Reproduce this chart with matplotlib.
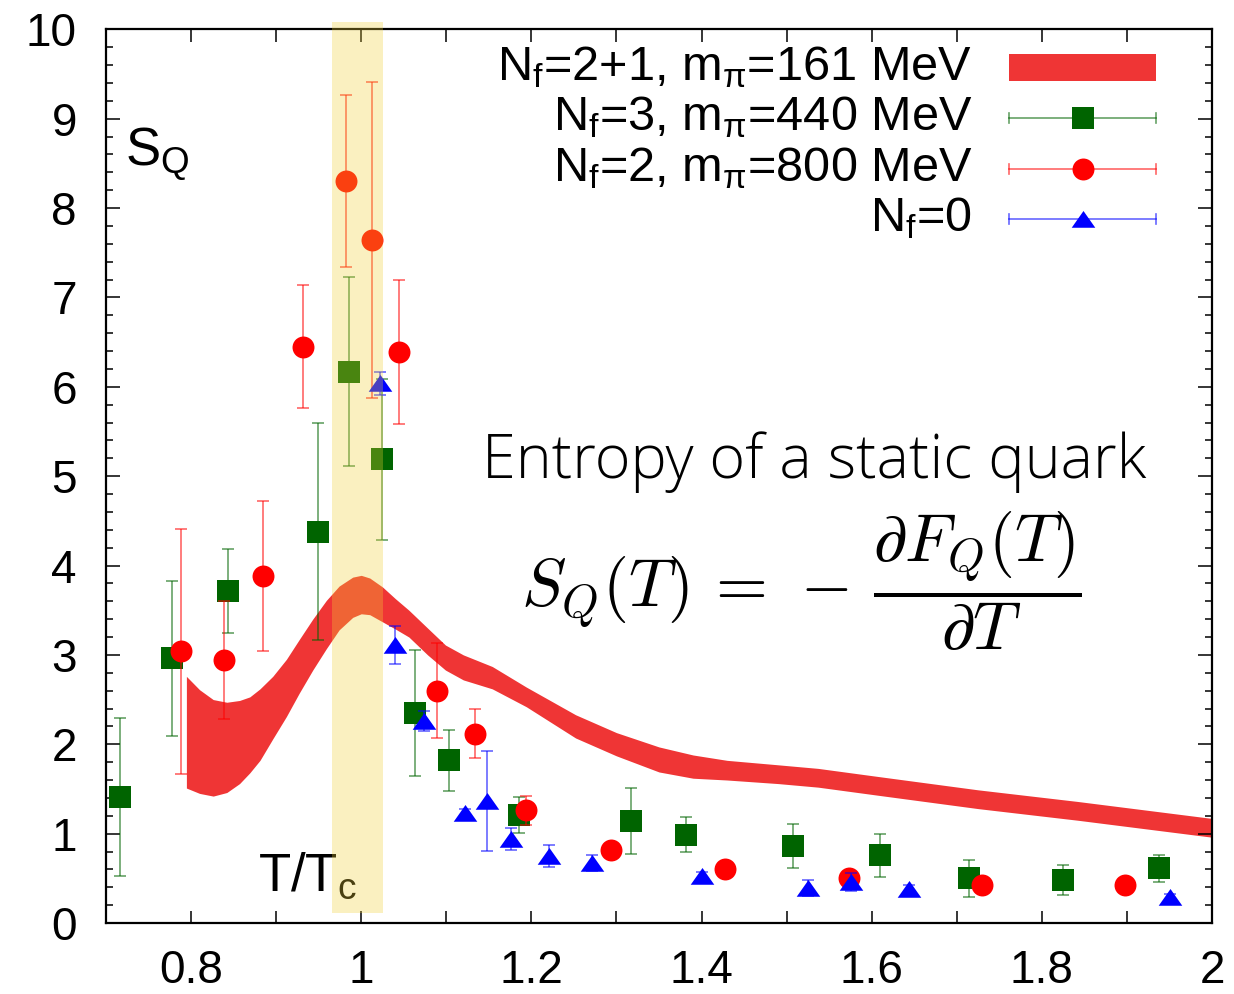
import numpy as np
import matplotlib
matplotlib.use('Agg')
import matplotlib.pyplot as plt
import matplotlib.patches as pch
from matplotlib.lines import Line2D
from matplotlib.ticker import MultipleLocator, FuncFormatter

plt.rcParams['font.family'] = ['Liberation Sans', 'DejaVu Sans']
plt.rcParams['mathtext.fontset'] = 'custom'
plt.rcParams['mathtext.rm'] = 'Liberation Sans'
plt.rcParams['mathtext.it'] = 'Liberation Sans:italic'
plt.rcParams['mathtext.bf'] = 'Liberation Sans:bold'

# Nf=2+1, m_pi=161 MeV: band edges
band_t = [0.7945, 0.810, 0.826, 0.842, 0.857, 0.869, 0.881, 0.896, 0.912, 0.927,
          0.943, 0.959, 0.974, 0.990, 1.000, 1.010, 1.025, 1.040, 1.056, 1.078,
          1.099, 1.120, 1.154, 1.194, 1.252, 1.300, 1.350, 1.390, 1.430, 1.490,
          1.537, 1.607, 1.725, 1.842, 2.000]
band_hi = [2.76, 2.61, 2.50, 2.47, 2.49, 2.53, 2.62, 2.76, 2.95, 3.17,
           3.40, 3.61, 3.77, 3.87, 3.89, 3.86, 3.76, 3.63, 3.50, 3.30,
           3.11, 3.00, 2.87, 2.64, 2.33, 2.13, 1.97, 1.88, 1.82, 1.77,
           1.73, 1.64, 1.49, 1.36, 1.17]
band_lo = [1.51, 1.45, 1.42, 1.46, 1.56, 1.68, 1.82, 2.06, 2.31, 2.57,
           2.83, 3.07, 3.28, 3.42, 3.46, 3.45, 3.37, 3.29, 3.20, 3.00,
           2.83, 2.72, 2.62, 2.42, 2.07, 1.87, 1.69, 1.62, 1.60, 1.56,
           1.52, 1.43, 1.28, 1.15, 0.96]

# Nf=3, m_pi=440 MeV
nf3_t = [0.716, 0.777, 0.843, 0.9495, 0.9856, 1.0244, 1.0632, 1.1032, 1.1858,
         1.3171, 1.3817, 1.5077, 1.6093, 1.7147, 1.8247, 1.9380]
nf3_s = [1.41, 2.96, 3.71, 4.38, 6.17, 5.19, 2.35, 1.82, 1.21,
         1.14, 0.99, 0.86, 0.76, 0.50, 0.48, 0.61]
nf3_e = [0.88, 0.87, 0.47, 1.21, 1.06, 0.90, 0.71, 0.34, 0.20,
         0.37, 0.20, 0.25, 0.24, 0.21, 0.165, 0.155]

# Nf=2, m_pi=800 MeV
nf2_t = [0.7878, 0.839, 0.8845, 0.9319, 0.9817, 1.013, 1.0444, 1.0887, 1.1341,
         1.1933, 1.2936, 1.4278, 1.5733, 1.7302, 1.8979]
nf2_s = [3.04, 2.94, 3.88, 6.45, 8.30, 7.64, 6.39, 2.60, 2.12,
         1.26, 0.82, 0.60, 0.50, 0.43, 0.42]
nf2_e = [1.37, 0.66, 0.84, 0.69, 0.96, 1.77, 0.81, 0.53, 0.27,
         0.16, 0.05, 0.05, 0.06, 0.04, 0.04]

# Nf=0 (quenched)
nf0_t = [1.022, 1.0397, 1.0738, 1.1216, 1.1475, 1.1757, 1.221, 1.2712, 1.4006,
         1.5257, 1.5762, 1.6436, 1.9510]
nf0_s = [6.04, 3.11, 2.26, 1.23, 1.37, 0.94, 0.75, 0.67, 0.53,
         0.395, 0.46, 0.38, 0.29]
nf0_e = [0.13, 0.21, 0.11, 0.05, 0.56, 0.12, 0.12, 0.09, 0.04,
         0.09, 0.10, 0.04, 0.03]

labels = [r'N$_\mathrm{f}$=2+1, m$_\mathrm{\pi}$=161 MeV',
          r'N$_\mathrm{f}$=3, m$_\mathrm{\pi}$=440 MeV',
          r'N$_\mathrm{f}$=2, m$_\mathrm{\pi}$=800 MeV',
          r'N$_\mathrm{f}$=0']

W, H = 1234, 994
fig = plt.figure(figsize=(W / 100, H / 100), dpi=100)
ax = fig.add_axes([106 / W, 71 / H, 1106 / W, 893.7 / H])


def fpx(x, y):
    # pixel position -> figure fraction
    return x / W, 1 - y / H


def apx(x, y):
    # pixel position -> axes fraction
    return (x - 106) / 1106, (923 - y) / 893.7


band_col = '#ef3535'
green, red, blue = '#006400', '#ff0000', '#0000ff'
tri = [(0, 0.72), (-1, -0.70), (1, -0.70)]

ax.fill_between(band_t, band_lo, band_hi, color=band_col, lw=0, zorder=1)

series = [(nf3_t, nf3_s, nf3_e, green, 's', 16.3),
          (nf2_t, nf2_s, nf2_e, red, 'o', 15.8),
          (nf0_t, nf0_s, nf0_e, blue, tri, 17.0)]
for i, (t, s, e, col, mk, ms) in enumerate(series):
    ecol = matplotlib.colors.to_rgba(col, 0.6)
    ax.errorbar(t, s, yerr=e, fmt='none', ecolor=ecol, elinewidth=1.2,
                capsize=4.4, capthick=1.2, zorder=2 + 2 * i)
    ax.plot(t, s, ls='none', marker=mk, ms=ms, color=col, mew=0, zorder=3 + 2 * i)

ax.set_xlim(0.7, 2.0)
ax.set_ylim(0, 10)
ax.xaxis.set_major_locator(MultipleLocator(0.1))
ax.xaxis.set_major_formatter(FuncFormatter(
    lambda v, p: ('%g' % round(v, 1)) if abs(v * 5 - round(v * 5)) < 1e-6 else ''))
ax.yaxis.set_major_locator(MultipleLocator(1))
ax.yaxis.set_minor_locator(MultipleLocator(0.2))
ax.tick_params(axis='both', which='both', direction='in', top=True, right=True,
               width=1.1, labelsize=33)
ax.tick_params(axis='x', which='major', length=9, pad=19)
ax.tick_params(axis='y', which='major', length=10, pad=21)
ax.tick_params(axis='y', which='minor', length=5)
for sp in ax.spines.values():
    sp.set_linewidth(1.6)

# key, drawn gnuplot style: label on the left, sample on the right
rows = [68, 118, 169, 219]
x0, x1, xm = 1009, 1156, 1083
for k, (lab, ry) in enumerate(zip(labels, rows)):
    tx, ty = apx(972, ry + 12)
    ax.text(tx, ty, lab, transform=ax.transAxes, ha='right', va='baseline', fontsize=35)
    if k == 0:
        bx, by = apx(x0, 81)
        ax.add_patch(pch.Rectangle((bx, by), (x1 - x0) / 1106, 27 / 893.7,
                                   transform=ax.transAxes, color=band_col, lw=0, clip_on=False))
        continue
    t, s, e, col, mk, ms = series[k - 1]
    ecol = matplotlib.colors.to_rgba(col, 0.6)
    ax0, ay = apx(x0, ry)
    ax1, _ = apx(x1, ry)
    ax.add_line(Line2D([ax0, ax1], [ay, ay], transform=ax.transAxes, color=ecol,
                       lw=1.2, clip_on=False))
    for cx in (x0, x1):
        cxa, cy0 = apx(cx, ry - 5)
        _, cy1 = apx(cx, ry + 5)
        ax.add_line(Line2D([cxa, cxa], [cy0, cy1], transform=ax.transAxes, color=ecol,
                           lw=1.2, clip_on=False))
    mxa, mya = apx(xm, ry)
    ax.add_line(Line2D([mxa], [mya], transform=ax.transAxes, ls='none', marker=mk,
                       ms=ms, color=col, mew=0, clip_on=False))

# annotations
fig.text(*fpx(125, 165), r'S$_\mathrm{Q}$', fontsize=38, va='baseline')
fig.text(*fpx(258, 891), r'T/T$_\mathrm{c}$', fontsize=38, va='baseline')
fig.text(*fpx(482, 478), 'Entropy of a static quark', fontsize=44,
         family='Open Sans', weight='light', va='baseline')
fig.text(*fpx(521, 581), r'$S_Q(T)\,=\,-\,\dfrac{\partial F_Q(T)}{\partial T}$',
         fontsize=48, math_fontfamily='cm', va='center')

# transition region around T_c, laid over everything
bx, by = fpx(331.7, 912.7)
fig.add_artist(pch.Rectangle((bx, by), 51 / W, 890.7 / H, transform=fig.transFigure,
                             facecolor=(239 / 255, 207 / 255, 54 / 255), alpha=0.31,
                             lw=0, zorder=6))

fig.savefig('out.png', dpi=100)
